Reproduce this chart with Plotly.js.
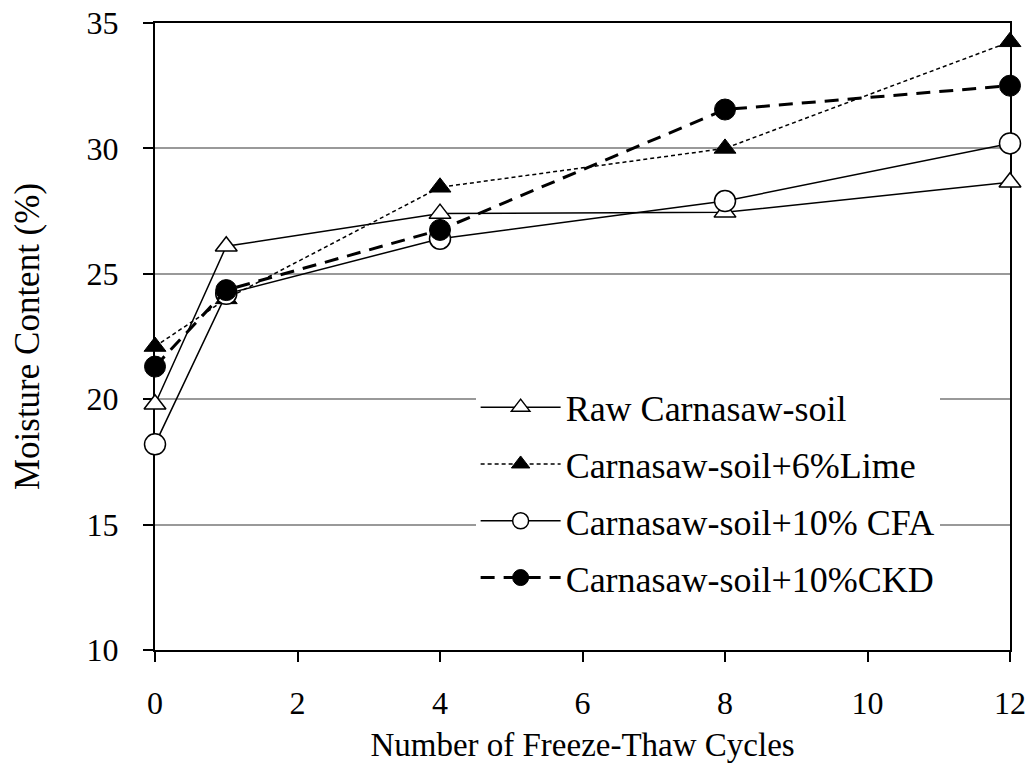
<!DOCTYPE html>
<html>
<head>
<meta charset="utf-8">
<script src="https://cdn.plot.ly/plotly-3.0.1.min.js"></script>
<style>html,body{margin:0;padding:0;background:#fff;}#chart{width:1036px;height:767px;}</style>
</head>
<body>
<div id="chart"></div>
<script>
const cycles = [0, 1, 4, 8, 12];
const rawSoil = [19.8, 26.1, 27.4, 27.45, 28.65];
const lime6 = [22.1, 24.0, 28.45, 30.0, 34.25];
const cfa10 = [18.2, 24.2, 26.4, 27.9, 30.2];
const ckd10 = [21.3, 24.35, 26.75, 31.55, 32.5];
const seriesNames = ["Raw Carnasaw-soil", "Carnasaw-soil+6%Lime", "Carnasaw-soil+10% CFA", "Carnasaw-soil+10%CKD"];

const font = "'Liberation Serif', 'Times New Roman', serif";
const traces = [
  {x: cycles, y: rawSoil, name: seriesNames[0], legendgroup: "a", mode: "lines+markers", cliponaxis: false,
   line: {color: "#000", width: 1.5},
   marker: {symbol: "triangle-up", size: 19, color: "#fff", line: {color: "#000", width: 1.5}}},
  {x: cycles, y: lime6, name: seriesNames[1], legendgroup: "b", mode: "lines+markers", cliponaxis: false,
   line: {color: "#000", width: 1.5, dash: "4px,3px"},
   marker: {symbol: "triangle-up", size: 19, color: "#000", line: {color: "#000", width: 1}}},
  {x: cycles, y: cfa10, name: seriesNames[2], legendgroup: "c", mode: "lines+markers", cliponaxis: false,
   line: {color: "#000", width: 1.5},
   marker: {symbol: "circle", size: 21, color: "#fff", line: {color: "#000", width: 1.5}}},
  {x: cycles, y: ckd10, name: seriesNames[3], legendgroup: "d", mode: "lines+markers", cliponaxis: false,
   line: {color: "#000", width: 3, dash: "14px,9px"},
   marker: {symbol: "circle", size: 21, color: "#000", line: {color: "#000", width: 1}}}
];

const layout = {
  width: 1036, height: 767,
  margin: {l: 155, r: 26, t: 23, b: 117},
  paper_bgcolor: "#fff", plot_bgcolor: "#fff",
  font: {family: font, size: 32, color: "#000"},
  showlegend: true,
  legend: {x: 0.375, y: 0.435, xanchor: "left", yanchor: "top",
           bgcolor: "#fff", borderwidth: 0, font: {family: font, size: 36, color: "#000"},
           itemwidth: 80, tracegroupgap: 7},
  xaxis: {range: [0, 12], dtick: 2, tick0: 0, showgrid: false, zeroline: false,
          showline: true, linecolor: "#000", linewidth: 2, mirror: true, layer: "below traces",
          ticks: "outside", ticklen: 10, tickwidth: 2, tickcolor: "#000",
          ticklabelstandoff: 14,
          tickfont: {family: font, size: 32, color: "#000"},
          title: {text: "Number of Freeze-Thaw Cycles", font: {family: font, size: 33, color: "#000"}, standoff: 12}},
  yaxis: {range: [10, 35], dtick: 5, tick0: 10, showgrid: true, gridcolor: "#999", gridwidth: 2, zeroline: false,
          showline: true, linecolor: "#000", linewidth: 2, mirror: true, layer: "below traces",
          ticks: "outside", ticklen: 10, tickwidth: 2, tickcolor: "#000",
          ticklabelstandoff: 18,
          tickfont: {family: font, size: 32, color: "#000"},
          title: {text: "Moisture Content (%)", font: {family: font, size: 35, color: "#000"}, standoff: 36}}
};

Plotly.newPlot("chart", traces, layout, {displayModeBar: false, staticPlot: true});
</script>
</body>
</html>
